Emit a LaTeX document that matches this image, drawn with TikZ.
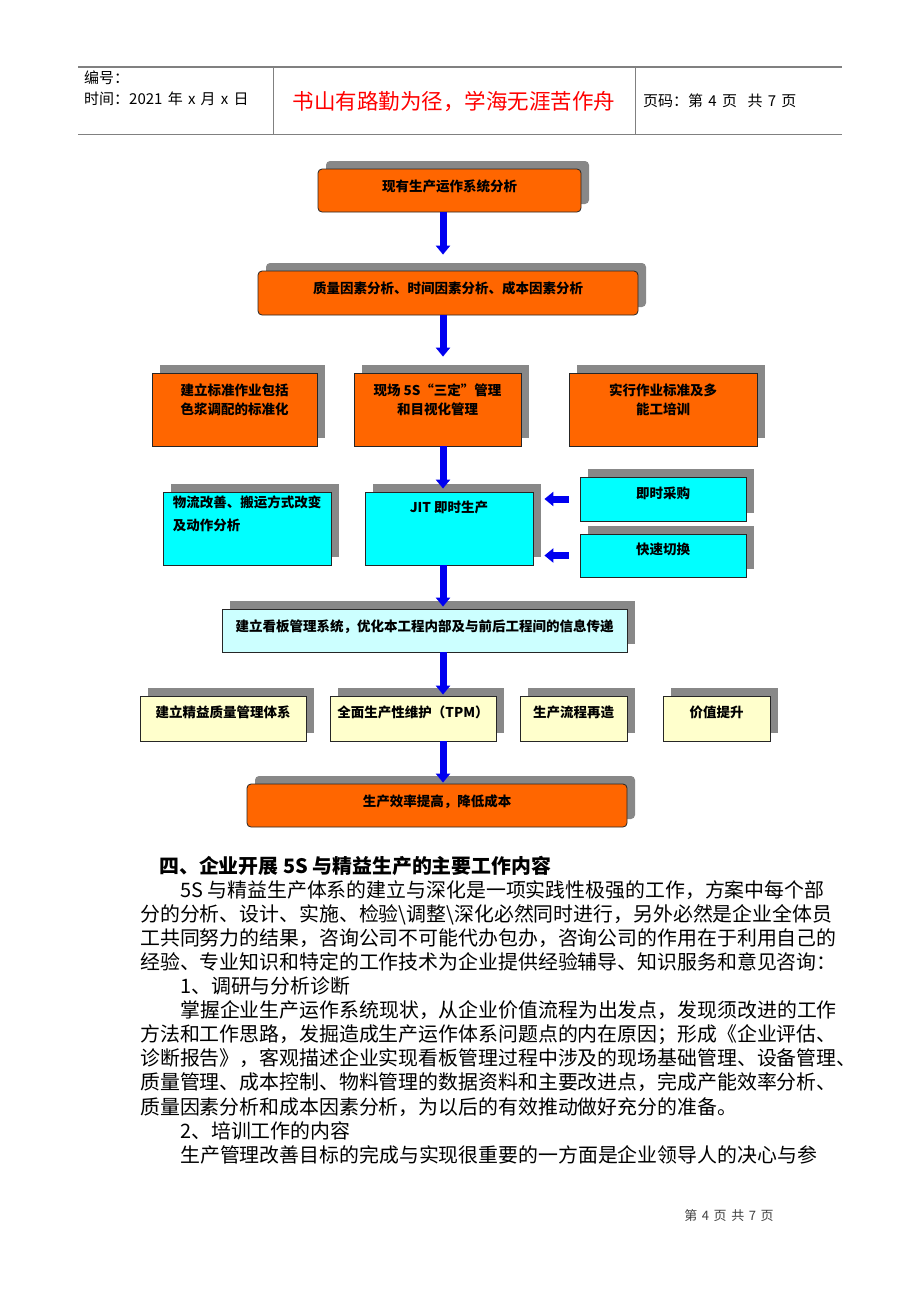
\documentclass[tikz,border=0pt]{standalone}
\usepackage{fontspec}
\setmainfont{Noto Sans CJK SC}
\usetikzlibrary{shadows,arrows.meta}
\definecolor{boxorange}{RGB}{255,102,0}
\definecolor{boxcyan}{RGB}{0,255,255}
\definecolor{palecyan}{RGB}{204,255,255}
\definecolor{paleyellow}{RGB}{255,255,204}
\definecolor{arrowblue}{RGB}{0,0,240}
\definecolor{shadowgray}{RGB}{136,136,136}
\newcommand{\gap}{\hspace{0.35em}}

\begin{document}
\begin{tikzpicture}[x=1pt,y=-1pt]
\tikzstyle{box}=[rectangle,draw=black!85,line width=0.8pt,inner sep=0pt,
  drop shadow={shadow xshift=8pt,shadow yshift=8pt,fill=shadowgray,opacity=1}]
\tikzstyle{obox}=[box,fill=boxorange]
\tikzstyle{rbox}=[obox,rounded corners=4pt]
\tikzstyle{cbox}=[box,fill=boxcyan]
\tikzstyle{pbox}=[box,fill=palecyan]
\tikzstyle{ybox}=[box,fill=paleyellow]
\tikzstyle{btxt}=[font=\fontsize{13.5}{19}\selectfont\bfseries,align=center,inner sep=0pt]
\tikzstyle{barrow}=[draw=arrowblue,line width=7pt,-{Triangle[length=9pt,width=14pt]}]
\tikzstyle{head}=[anchor=west,inner sep=0pt,font=\fontsize{15}{18}\selectfont]
\tikzstyle{body}=[anchor=base west,inner sep=0pt,font=\fontsize{19.9}{24}\selectfont]
\useasboundingbox (0,0) rectangle (920,1302);

% page header
\draw[gray,line width=1.5pt] (78,67) -- (842,67);
\draw[gray,line width=1pt] (78,134) -- (842,134);
\draw[gray,line width=0.8pt] (273,67) -- (273,134) (635,67) -- (635,134);
\node[head] (serial) at (84,78) {编号：};
\node[head] (date) at (84,99) {时间：2021\gap 年\gap x\gap 月\gap x\gap 日};
\node[inner sep=0pt,font=\fontsize{21.5}{24}\selectfont,text=red] (motto) at (454,102) {书山有路勤为径，学海无涯苦作舟};
\node[head] (pageno) at (643,101) {页码：第\gap 4\gap 页\gap\gap 共\gap 7\gap 页};

% flow chart
\coordinate (trunk) at (443,0);
\node[rbox,minimum width=263pt,minimum height=43pt,
  label={[btxt,yshift=4pt]center:现有生产运作系统分析}] (sysana) at (449.5,190.5) {};
\node[rbox,minimum width=380pt,minimum height=44pt,
  label={[btxt,yshift=5pt]center:质量因素分析、时间因素分析、成本因素分析}] (factors) at (448,293) {};

\node[obox,minimum width=165pt,minimum height=73pt,
  label={[btxt,yshift=10pt]center:建立标准作业包括\\色浆调配的标准化}] (stdwork) at (234.5,409.5) {};
\node[obox,minimum width=167pt,minimum height=73pt,
  label={[btxt,yshift=10pt]center:现场 5S“三定”管理\\和目视化管理}] (fives) at (437.5,409.5) {};
\node[obox,minimum width=188pt,minimum height=73pt,
  label={[btxt,yshift=10pt]center:实行作业标准及多\\能工培训}] (multiskill) at (663,409.5) {};

\node[cbox,minimum width=168pt,minimum height=73pt,
  label={[btxt,align=left,anchor=north west,xshift=10pt,yshift=-4pt,
  font=\fontsize{13.5}{23}\selectfont\bfseries]north west:物流改善、搬运方式改变\\及动作分析}] (logistics) at (247,528.5) {};
\node[cbox,minimum width=168pt,minimum height=73pt,
  label={[btxt,yshift=21pt]center:JIT 即时生产}] (jit) at (449,528.5) {};
\node[cbox,minimum width=166pt,minimum height=44pt,
  label={[btxt,yshift=6pt]center:即时采购}] (purchase) at (663,499) {};
\node[cbox,minimum width=166pt,minimum height=43pt,
  label={[btxt,yshift=6pt]center:快速切换}] (changeover) at (663,555.5) {};

\node[pbox,minimum width=405pt,minimum height=43pt,
  label={[btxt,yshift=4pt]center:建立看板管理系统，优化本工程内部及与前后工程间的信息传递}] (kanban) at (424.5,630.5) {};

\node[ybox,minimum width=166pt,minimum height=45pt,
  label={[btxt,yshift=6pt]center:建立精益质量管理体系}] (quality) at (223,718.5) {};
\node[ybox,minimum width=166pt,minimum height=45pt,
  label={[btxt,yshift=6pt]center:全面生产性维护（TPM）}] (tpm) at (413,718.5) {};
\node[ybox,minimum width=107pt,minimum height=45pt,
  label={[btxt,yshift=6pt]center:生产流程再造}] (reengineer) at (573.5,718.5) {};
\node[ybox,minimum width=107pt,minimum height=45pt,
  label={[btxt,yshift=6pt]center:价值提升}] (value) at (716.5,718.5) {};

\node[rbox,minimum width=380pt,minimum height=43pt,
  label={[btxt,yshift=4pt]center:生产效率提高，降低成本}] (result) at (437,805.5) {};

\draw[barrow,shorten >=16pt] (sysana.south -| trunk) -- (factors.north -| trunk);
\draw[barrow,shorten >=16pt] (factors.south -| trunk) -- (fives.north -| trunk);
\draw[barrow,shorten >=3pt] (fives.south -| trunk) -- (jit.north -| trunk);
\draw[barrow,shorten >=2pt] (jit.south -| trunk) -- (kanban.north -| trunk);
\draw[barrow,shorten >=1pt] (kanban.south -| trunk) -- (tpm.north -| trunk);
\draw[barrow,shorten >=1pt] (tpm.south -| trunk) -- (result.north -| trunk);
\draw[barrow,shorten <=11pt] (purchase.west) -- ([xshift=11pt]jit.east |- purchase.west);
\draw[barrow,shorten <=11pt] (changeover.west) -- ([xshift=11pt]jit.east |- changeover.west);

% body text
\node[body,font=\fontsize{19.9}{24}\selectfont\bfseries] (t0) at (159,873) {四、企业开展 5S 与精益生产的主要工作内容};
\node[body] (t1) at (180,897.1) {5S 与精益生产体系的建立与深化是一项实践性极强的工作，方案中每个部};
\node[body] (t2) at (140,921.2) {分的分析、设计、实施、检验\textbackslash 调整\textbackslash 深化必然同时进行，另外必然是企业全体员};
\node[body] (t3) at (140,945.3) {工共同努力的结果，咨询公司不可能代办包办，咨询公司的作用在于利用自己的};
\node[body] (t4) at (140,969.4) {经验、专业知识和特定的工作技术为企业提供经验辅导、知识服务和意见咨询：};
\node[body] (t5) at (180,993.5) {1、调研与分析诊断};
\node[body] (t6) at (180,1017.6) {掌握企业生产运作系统现状，从企业价值流程为出发点，发现须改进的工作};
\node[body] (t7) at (140,1041.7) {方法和工作思路，发掘造成生产运作体系问题点的内在原因；形成《企业评估、};
\node[body] (t8) at (140,1065.8) {诊断报告》，客观描述企业实现看板管理过程中涉及的现场基础管理、设备管理、};
\node[body] (t9) at (140,1089.9) {质量管理、成本控制、物料管理的数据资料和主要改进点，完成产能效率分析、};
\node[body] (t10) at (140,1114) {质量因素分析和成本因素分析，为以后的有效推动做好充分的准备。};
\node[body] (t11) at (180,1138.1) {2、培训工作的内容};
\node[body] (t12) at (180,1162.2) {生产管理改善目标的完成与实现很重要的一方面是企业领导人的决心与参};

% page footer
\node[inner sep=0pt,font=\fontsize{13}{15}\selectfont,text=black!75] (footer) at (729,1216) {第\gap 4\gap 页\gap 共\gap 7\gap 页};
\end{tikzpicture}
\end{document}
